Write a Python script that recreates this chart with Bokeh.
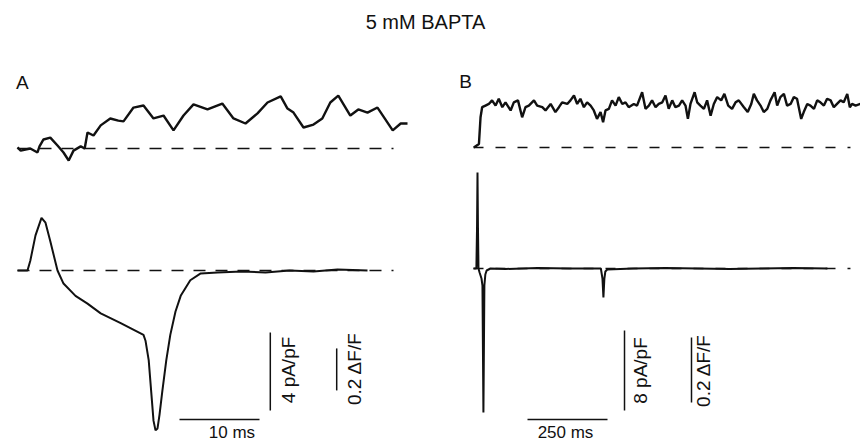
from bokeh.plotting import figure
from bokeh.models import Range1d, Label
from bokeh.embed import file_html
from bokeh.resources import INLINE

# ---------------- data ----------------
# Panel A: time in ms, current in pA/pF, fluorescence in dF/F
a_fluo_t = [0, 0.4, 1.6, 2.5, 2.75, 3.25, 4.1, 5.0, 5.75, 6.4, 7.0, 7.9, 8.4, 8.75, 9.5,
            10.4, 11.6, 12.6, 13.25, 14.5, 15.75, 17.0, 18.25, 19.5, 20.75, 22.0, 23.75,
            25.6, 27.0, 28.5, 30.0, 31.25, 32.9, 33.75, 34.5, 35.75, 37.0, 38.1, 39.1,
            40.1, 41.6, 42.6, 43.75, 45.0, 46.9, 47.9, 48.75]
a_fluo_v = [0.005, -0.01, 0.0, -0.019, 0.01, 0.043, 0.052, 0.014, -0.019, -0.057, -0.01,
            0.01, 0.0, 0.076, 0.062, 0.11, 0.143, 0.133, 0.129, 0.195, 0.205, 0.143, 0.157,
            0.086, 0.157, 0.21, 0.186, 0.214, 0.143, 0.119, 0.167, 0.219, 0.248, 0.19,
            0.171, 0.1, 0.114, 0.143, 0.219, 0.252, 0.157, 0.186, 0.171, 0.195, 0.086,
            0.119, 0.119]

a_cur_t = [0, 1.25, 1.6, 2.25, 3.0, 3.5, 4.1, 5.0, 5.75, 7.25, 8.75, 10.4, 12.9, 15.75,
           16.0, 16.4, 16.75, 17.0, 17.25, 17.5, 17.75, 18.1, 18.6, 19.1, 19.75, 20.4,
           21.6, 22.9, 25.0, 28.0, 31.0, 34.0, 37.0, 40.0, 43.75]
a_cur_i = [0, 0, 0.5, 1.8, 2.7, 2.45, 1.5, 0, -0.67, -1.3, -1.7, -2.2, -2.7, -3.3,
           -3.6, -4.6, -6.4, -7.7, -8.2, -8.1, -7.4, -6.2, -4.6, -3.3, -2.1, -1.3,
           -0.5, -0.15, -0.1, -0.05, -0.1, 0.0, -0.05, 0.05, 0.0]

# Panel B
b_fluo_t = [1, 17, 22, 27, 37.5, 48, 58, 69, 79, 90, 100, 116, 126, 139, 152, 162.5, 173,
            189, 199, 215, 225, 241, 256, 267, 277, 293, 303, 314, 324, 334, 345, 355,
            366, 376, 386, 397, 405, 412.5, 423, 433, 444, 454, 465, 475, 485, 501, 511,
            527, 537.5, 548, 558, 569, 579, 590, 600, 610, 621, 631, 642, 652, 662.5, 670,
            678, 691, 699, 709, 720, 730, 741, 751, 761.5, 774, 784, 796, 808, 819, 829,
            845, 857, 868, 876, 886, 897, 907, 918, 928, 941, 949, 959, 970, 980, 991,
            1001, 1011, 1024, 1032, 1043, 1053, 1064, 1074, 1084, 1095, 1105, 1116, 1126,
            1136, 1147, 1157, 1168, 1176, 1183, 1194, 1209]
b_fluo_v = [0.0, 0.011, 0.093, 0.124, 0.129, 0.134, 0.145, 0.129, 0.150, 0.124, 0.139,
            0.114, 0.139, 0.145, 0.093, 0.124, 0.129, 0.145, 0.129, 0.124, 0.114, 0.134,
            0.109, 0.124, 0.139, 0.134, 0.145, 0.160, 0.134, 0.150, 0.124, 0.139, 0.129,
            0.114, 0.088, 0.109, 0.078, 0.114, 0.119, 0.145, 0.129, 0.155, 0.134, 0.139,
            0.124, 0.134, 0.129, 0.170, 0.119, 0.129, 0.145, 0.124, 0.134, 0.139, 0.160,
            0.119, 0.145, 0.124, 0.129, 0.145, 0.129, 0.088, 0.134, 0.170, 0.139, 0.129,
            0.119, 0.145, 0.098, 0.134, 0.155, 0.145, 0.165, 0.129, 0.119, 0.139, 0.145,
            0.124, 0.109, 0.134, 0.165, 0.145, 0.129, 0.109, 0.119, 0.145, 0.170, 0.129,
            0.155, 0.165, 0.129, 0.134, 0.155, 0.150, 0.088, 0.109, 0.134, 0.129, 0.119,
            0.145, 0.139, 0.129, 0.150, 0.145, 0.124, 0.134, 0.145, 0.139, 0.165, 0.124,
            0.134, 0.129, 0.134]

b_cur_t = [0, 9, 11, 12.5, 14, 15.6, 19, 25, 28, 31, 34, 37, 41, 53, 100, 200, 300, 398,
           400, 403, 406, 409, 412, 418, 500, 600, 700, 800, 900, 1000, 1106]
b_cur_i = [0, 0, 4, 9.6, 4, 0, -0.4, -1.0, -1.7, -14.4, -1.7, -0.6, -0.2, 0, -0.05, 0.05,
           0, 0, -0.4, -1.0, -2.9, -1.0, -0.3, -0.1, 0, 0.05, 0, -0.05, 0, 0.05, 0]

# baselines (dashed) extent, ms
a_base_t = [0, 47]
b_base_t = [0, 1178]
zero = [0, 0]

# scale bars
a_time_bar = 10      # ms
a_cur_bar = 4        # pA/pF
a_fluo_bar = 0.2     # dF/F
b_time_bar = 250     # ms
b_cur_bar = 8        # pA/pF
b_fluo_bar = 0.2     # dF/F

# ---------------- figure ----------------
FONT = "Liberation Sans"
INK = "#111111"

p = figure(width=860, height=444, title=None,
           x_range=Range1d(-2.125, 105.375), y_range=Range1d(-8.923, 13.846),
           x_axis_type=None, y_axis_type=None, min_border=0,
           toolbar_location=None, output_backend="svg",
           outline_line_color=None, background_fill_color="white",
           border_fill_color="white")
p.extra_x_ranges = {"tB": Range1d(-1478.125, 1209.375)}
p.extra_y_ranges = {"fA": Range1d(-1.4095, 0.70476),
                    "iB": Range1d(-17.6, 26.8),
                    "fB": Range1d(-0.9138, 0.45231)}
p.grid.visible = False

# dashed baselines
p.line(a_base_t, zero, y_range_name="fA", line_color=INK, line_width=1.5, line_dash="12 10")
p.line(a_base_t, zero, line_color=INK, line_width=1.5, line_dash="12 10")
p.line(b_base_t, zero, x_range_name="tB", y_range_name="fB", line_color=INK,
       line_width=1.5, line_dash="10 12")
p.line(b_base_t, zero, x_range_name="tB", y_range_name="iB", line_color=INK,
       line_width=1.5, line_dash="10 12")

# traces
p.line(a_fluo_t, a_fluo_v, y_range_name="fA", line_color=INK, line_width=2.4)
p.line(a_cur_t, a_cur_i, line_color=INK, line_width=2)
p.line(b_fluo_t, b_fluo_v, x_range_name="tB", y_range_name="fB", line_color=INK, line_width=2.4)
p.line(b_cur_t, b_cur_i, x_range_name="tB", y_range_name="iB", line_color=INK, line_width=2)

# scale bars, panel A
ta0 = 20.25
p.line([ta0, ta0 + a_time_bar], [-7.64, -7.64], line_color=INK, line_width=1.5)
p.line([31.6, 31.6], [-7.18, -7.18 + a_cur_bar], line_color=INK, line_width=1.5)
p.line([39.9, 39.9], [-1.152, -1.152 + a_fluo_bar], y_range_name="fA", line_color=INK, line_width=1.5)

# scale bars, panel B
tb0 = 168.75
p.line([tb0, tb0 + b_time_bar], [-15.1, -15.1], x_range_name="tB", y_range_name="iB",
       line_color=INK, line_width=1.5)
p.line([471.9, 471.9], [-14.2, -14.2 + b_cur_bar], x_range_name="tB", y_range_name="iB",
       line_color=INK, line_width=1.5)
p.line([681.25, 681.25], [-0.7846, -0.7846 + b_fluo_bar], x_range_name="tB", y_range_name="fB",
       line_color=INK, line_width=1.5)

def lab(text, x, y, xr="default", yr="default", size="18px", angle=0, align="center"):
    p.add_layout(Label(x=x, y=y, text=text, x_range_name=xr, y_range_name=yr,
                       text_font=FONT, text_font_size=size, text_color=INK,
                       text_align=align, text_baseline="middle", angle=angle))

# title and panel letters
lab("5 mM BAPTA", 51.0, 12.72, size="20px")
lab("A", 0.6, 9.64, size="19px")
lab("B", -25.0, 18.7, xr="tB", yr="iB", size="19px")

# scale labels A
lab("10 ms", 26.8, -8.3, size="17px")
lab("4 pA/pF", 33.9, -5.1, angle=1.5708, size="19px")
lab("0.2 \u0394F/F", 42.1, -1.048, yr="fA", angle=1.5708, size="19px")

# scale labels B
lab("250 ms", 287.5, -16.4, xr="tB", yr="iB", size="17px")
lab("8 pA/pF", 522.0, -10.2, xr="tB", yr="iB", angle=1.5708, size="19px")
lab("0.2 \u0394F/F", 718.75, -0.686, xr="tB", yr="fB", angle=1.5708, size="19px")

open("out.html", "w").write(file_html(p, INLINE))
